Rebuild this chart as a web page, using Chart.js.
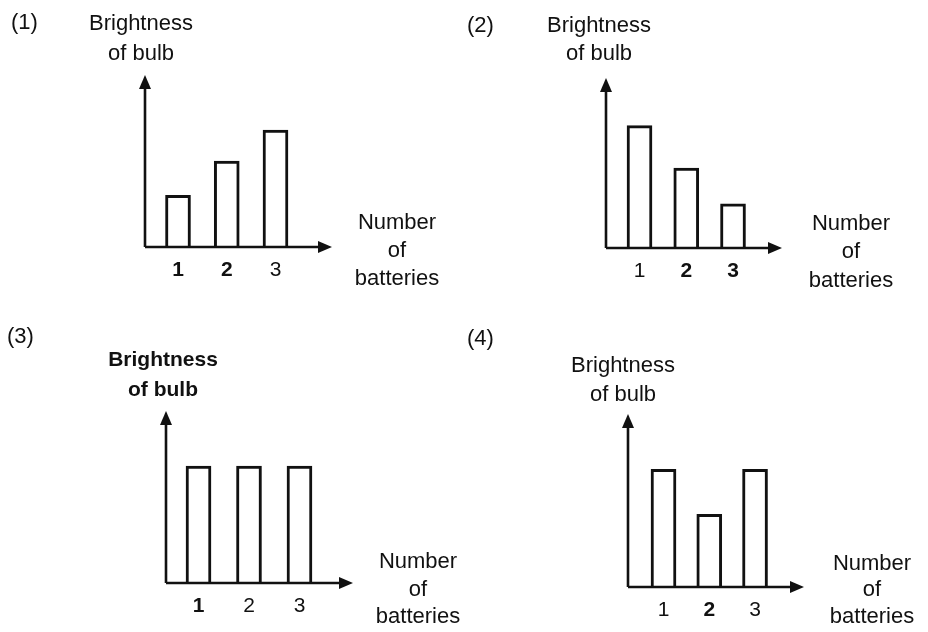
<!DOCTYPE html>
<html>
<head>
<meta charset="utf-8">
<script src="https://cdn.jsdelivr.net/npm/chart.js@4/dist/chart.umd.min.js"></script>
<style>
  body { margin: 0; background: #fff; }
  #page { position: relative; width: 928px; height: 632px; background: #fff; font-family: "Liberation Sans", Arial, sans-serif; color: #111; }
  canvas { position: absolute; }
  .txt { position: absolute; font-size: 22px; text-align: center; width: 160px; }
  .num { position: absolute; font-size: 22px; }
</style>
</head>
<body>
<div id="page"></div>
<script>
const batteries = [1, 2, 3];
const brightness1 = [1.5, 2.5, 3.4];
const brightness2 = [3.6, 2.35, 1.3];
const brightness3 = [3.4, 3.4, 3.4];
const brightness4 = [3.4, 2.1, 3.4];
const panelLabels = ['(1)', '(2)', '(3)', '(4)'];
const yTitle = ['Brightness', 'of bulb'];
const xTitle = ['Number', 'of', 'batteries'];

// where each panel sits and how its axes are placed (layout only)
const panels = [
    { values: brightness1, x: 0, y: 0, pad: { left: 145, top: 75, right: 132, bottom: 29 }, xMin: 0.323, xMax: 4.159,
      label: [11, 22], yT: [141, 23, 30], xT: [397, 222, 28], boldTicks: [1, 2], boldTitle: false },
    { values: brightness2, x: 464, y: 0, pad: { left: 142, top: 78, right: 146, bottom: 28 }, xMin: 0.283, xMax: 4.048,
      label: [467, 25], yT: [599, 25, 28], xT: [851, 223, 28.5], boldTicks: [2, 3], boldTitle: false },
    { values: brightness3, x: 0, y: 316, pad: { left: 166, top: 95, right: 111, bottom: 9 }, xMin: 0.356, xMax: 4.06,
      label: [7, 336], yT: [163, 359, 30], xT: [418, 561, 27.5], boldTicks: [1], boldTitle: true },
    { values: brightness4, x: 464, y: 316, pad: { left: 164, top: 98, right: 124, bottom: 5 }, xMin: 0.224, xMax: 4.07,
      label: [467, 338], yT: [623, 364, 29], xT: [872, 563, 26.5], boldTicks: [2], boldTitle: false }
];

const axisArrows = {
    id: 'axisArrows',
    afterDatasetsDraw(chart) {
        const { ctx, chartArea: a } = chart;
        ctx.save();
        ctx.strokeStyle = '#111';
        ctx.fillStyle = '#111';
        ctx.lineWidth = 2.6;
        ctx.beginPath();
        ctx.moveTo(a.left, a.bottom);
        ctx.lineTo(a.left, a.top + 10);
        ctx.moveTo(a.left, a.bottom);
        ctx.lineTo(a.right - 10, a.bottom);
        ctx.stroke();
        ctx.beginPath();
        ctx.moveTo(a.left, a.top);
        ctx.lineTo(a.left - 6, a.top + 14);
        ctx.lineTo(a.left + 6, a.top + 14);
        ctx.closePath();
        ctx.fill();
        ctx.beginPath();
        ctx.moveTo(a.right, a.bottom);
        ctx.lineTo(a.right - 14, a.bottom - 6);
        ctx.lineTo(a.right - 14, a.bottom + 6);
        ctx.closePath();
        ctx.fill();
        ctx.restore();
    }
};

function addText(page, cls, text, left, top, extra) {
    const d = document.createElement('div');
    d.className = cls;
    d.innerHTML = text;
    d.style.left = left + 'px';
    d.style.top = top + 'px';
    if (extra) Object.assign(d.style, extra);
    page.appendChild(d);
}

const page = document.getElementById('page');

panels.forEach((p, i) => {
    const canvas = document.createElement('canvas');
    canvas.width = 464;
    canvas.height = 316;
    canvas.style.left = p.x + 'px';
    canvas.style.top = p.y + 'px';
    page.appendChild(canvas);

    addText(page, 'num', panelLabels[i], p.label[0], p.label[1] - 13);
    const titleStyle = { lineHeight: p.yT[2] + 'px' };
    if (p.boldTitle) { titleStyle.fontWeight = 'bold'; titleStyle.fontSize = '21px'; }
    addText(page, 'txt', yTitle.join('<br>'), p.yT[0] - 80, p.yT[1] - p.yT[2] / 2, titleStyle);
    addText(page, 'txt', xTitle.join('<br>'), p.xT[0] - 80, p.xT[1] - p.xT[2] / 2, { lineHeight: p.xT[2] + 'px' });

    new Chart(canvas.getContext('2d'), {
        type: 'bar',
        data: {
            datasets: [{
                data: batteries.map((b, j) => ({ x: b, y: p.values[j] })),
                backgroundColor: '#fff',
                borderColor: '#111',
                borderWidth: 3,
                borderSkipped: 'start',
                barThickness: 25
            }]
        },
        options: {
            responsive: false,
            animation: false,
            layout: { padding: p.pad },
            plugins: { legend: { display: false }, tooltip: { enabled: false } },
            scales: {
                x: {
                    type: 'linear',
                    offset: false,
                    min: p.xMin,
                    max: p.xMax,
                    grid: { display: false, drawTicks: false },
                    border: { display: false },
                    afterBuildTicks: axis => { axis.ticks = batteries.map(v => ({ value: v })); },
                    afterFit: axis => { axis.height = 40; },
                    ticks: {
                        padding: 11,
                        color: '#111',
                        font: ctx => ({
                            family: '"Liberation Sans", Arial, sans-serif',
                            size: 21,
                            weight: ctx.tick && p.boldTicks.includes(ctx.tick.value) ? 'bold' : 'normal'
                        }),
                        callback: v => String(v)
                    }
                },
                y: { display: false, min: 0, max: 5 }
            }
        },
        plugins: [axisArrows]
    });
});
</script>
</body>
</html>
